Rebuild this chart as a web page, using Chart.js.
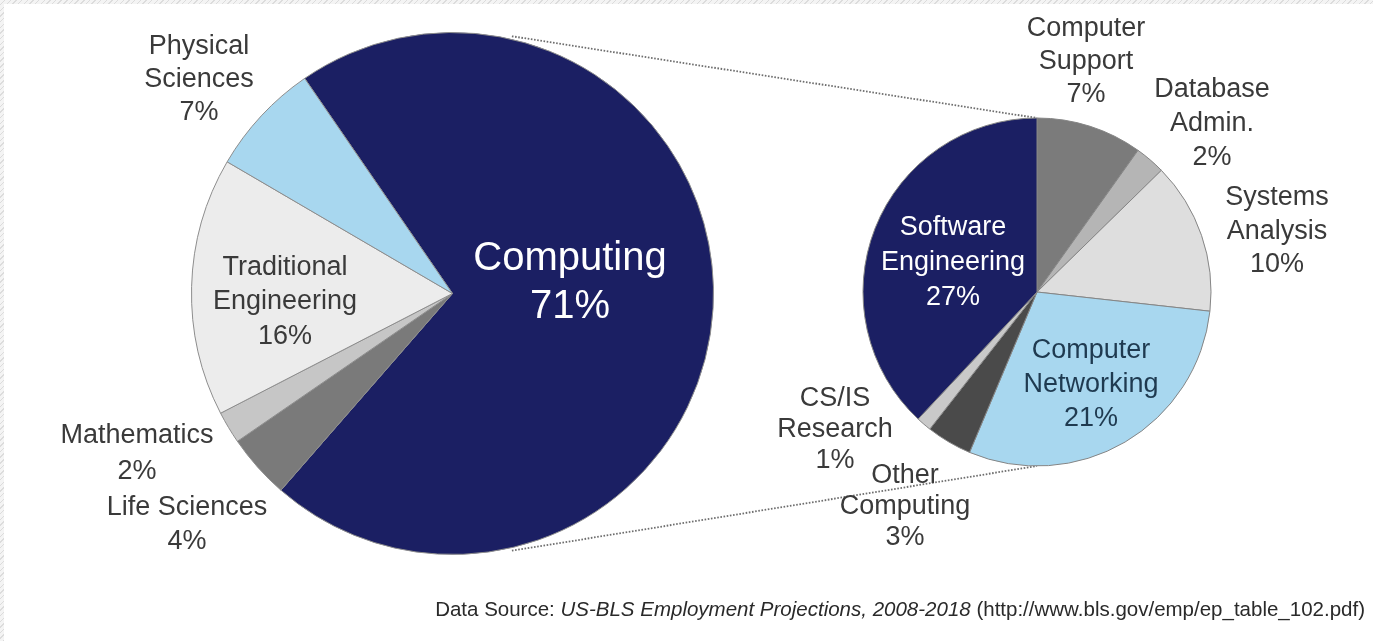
<!DOCTYPE html>
<html>
<head>
<meta charset="utf-8">
<script src="https://cdn.jsdelivr.net/npm/chart.js@4.4.0/dist/chart.umd.min.js"></script>
<style>
  html, body { margin: 0; padding: 0; }
  body {
    width: 1373px; height: 641px; overflow: hidden; position: relative;
    background: repeating-linear-gradient(-45deg, #dcdcdc 0 1px, #f4f4f4 1px 4px);
    font-family: "Liberation Sans", Arial, Helvetica, sans-serif;
  }
  #page { position: absolute; left: 4px; top: 4px; right: 0; bottom: 0; background: #fff; }
  canvas { position: absolute; }
  #leftPie { left: 0; top: 0; }
  #rightPie { left: 837px; top: 92px; }
  .lbl { position: absolute; width: 300px; text-align: center; font-size: 27px; color: #3a3a3a; white-space: pre; }
  #source { position: absolute; right: 8px; top: 597px; font-size: 20.5px; line-height: 24px; color: #2a2a2a; white-space: nowrap; }
</style>
</head>
<body>
<div id="page"></div>
<canvas id="leftPie" width="1373" height="641"></canvas>
<canvas id="rightPie" width="400" height="400"></canvas>
<div id="labels"></div>
<div id="source">Data Source: <i>US-BLS Employment Projections, 2008-2018</i> (http://www.bls.gov/emp/ep_table_102.pdf)</div>

<script>
// share of all STEM jobs (left pie), clockwise from the top
var fieldNames = ['Computing', 'Life Sciences', 'Mathematics', 'Traditional Engineering', 'Physical Sciences'];
var fieldShare = [71, 4, 2, 16, 7];
var fieldColors = ['#1b1f63', '#7a7a7a', '#c6c6c6', '#ececec', '#a8d7ef'];

// breakdown of computing (right pie), clockwise from the top
var compNames = ['Computer Support', 'Database Admin.', 'Systems Analysis', 'Computer Networking', 'Other Computing', 'CS/IS Research', 'Software Engineering'];
var compShare = [7, 2, 10, 21, 3, 1, 27];
var compColors = ['#7b7b7b', '#b5b5b5', '#dedede', '#a8d7ef', '#4a4a4a', '#c9c9c9', '#1b1f63'];

// where the labels sit: [x of centre, y of first line, line height, colour, size, break name]
var fieldLabelPos = [
    [570, 256, 48, '#ffffff', 40, true],
    [187, 506, 34, '#3a3a3a', 27, false],
    [137, 434, 36, '#3a3a3a', 27, false],
    [285, 266, 34.5, '#3a3a3a', 27, true],
    [199, 45.5, 33.3, '#3a3a3a', 27, true]
];
var compLabelPos = [
    [1086, 27.5, 33.3, '#3a3a3a', 27, true],
    [1212, 89, 33.7, '#3a3a3a', 27, true],
    [1277, 197, 33.3, '#3a3a3a', 27, true],
    [1091, 349, 34, '#1f3a50', 27, true],
    [905, 474, 31, '#3a3a3a', 27, true],
    [835, 397, 31, '#3a3a3a', 27, true],
    [953, 226, 35, '#ffffff', 27, true]
];

function addLabels(names, values, pos) {
    var box = document.getElementById('labels');
    names.forEach(function (name, i) {
        var p = pos[i];
        var div = document.createElement('div');
        div.className = 'lbl';
        var first = p[5] ? name.replace(' ', '\n') : name;
        div.textContent = first + '\n' + values[i] + '%';
        div.style.left = (p[0] - 150) + 'px';
        div.style.top = (p[1] - p[2] / 2) + 'px';
        div.style.lineHeight = p[2] + 'px';
        div.style.color = p[3];
        div.style.fontSize = p[4] + 'px';
        box.appendChild(div);
    });
}

var rightChart = new Chart(document.getElementById('rightPie'), {
    type: 'pie',
    data: {
        labels: compNames,
        datasets: [{
            data: compShare,
            backgroundColor: compColors,
            borderColor: '#858585',
            borderWidth: 1,
            hoverOffset: 0
        }]
    },
    options: {
        responsive: false,
        animation: false,
        events: [],
        radius: 174,
        rotation: 0,
        plugins: { legend: { display: false }, tooltip: { enabled: false } }
    }
});

// dotted lines joining the computing slice to the breakdown pie
var zoomLines = {
    id: 'zoomLines',
    beforeDatasetsDraw: function (chart) {
        var arc = chart.getDatasetMeta(0).data[0];
        var r2 = rightChart.getDatasetMeta(0).data[0];
        var ox = 837, oy = 92;
        var ctx = chart.ctx;
        ctx.save();
        ctx.strokeStyle = '#6e6e6e';
        ctx.lineWidth = 1.8;
        ctx.setLineDash([1.6, 1.6]);
        [[13, 0], [167, 180]].forEach(function (a) {
            var ra = (a[0] - 90) * Math.PI / 180;
            var rb = (a[1] - 90) * Math.PI / 180;
            ctx.beginPath();
            ctx.moveTo(arc.x + (arc.outerRadius + 3) * Math.cos(ra), arc.y + (arc.outerRadius + 3) * Math.sin(ra));
            ctx.lineTo(ox + r2.x + r2.outerRadius * Math.cos(rb), oy + r2.y + r2.outerRadius * Math.sin(rb));
            ctx.stroke();
        });
        ctx.restore();
    }
};

var leftChart = new Chart(document.getElementById('leftPie'), {
    type: 'pie',
    data: {
        labels: fieldNames,
        datasets: [{
            data: fieldShare,
            backgroundColor: fieldColors,
            borderColor: '#8d8d8d',
            borderWidth: 1,
            hoverOffset: 0
        }]
    },
    options: {
        responsive: false,
        animation: false,
        events: [],
        radius: 261,
        rotation: -34.5,
        layout: { padding: { left: 191, right: 659, top: 32, bottom: 86 } },
        plugins: { legend: { display: false }, tooltip: { enabled: false } }
    },
    plugins: [zoomLines]
});

addLabels(fieldNames, fieldShare, fieldLabelPos);
addLabels(compNames, compShare, compLabelPos);
</script>
</body>
</html>
